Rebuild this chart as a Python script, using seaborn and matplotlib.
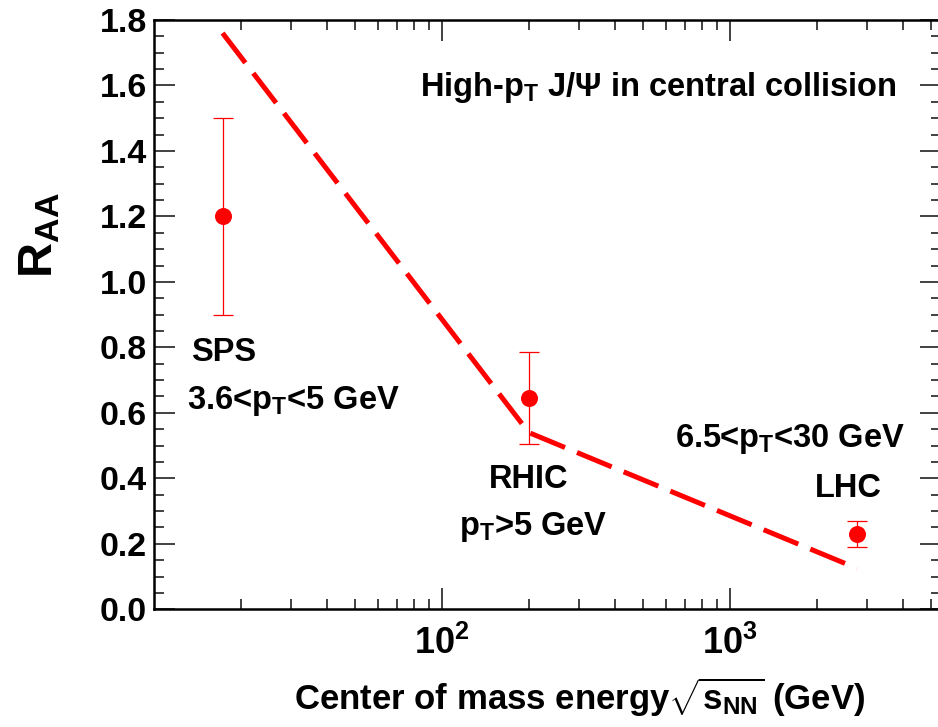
import matplotlib
matplotlib.use("Agg")
import matplotlib.pyplot as plt
import seaborn as sns
import numpy as np
import pandas as pd
from matplotlib.ticker import FixedLocator, NullFormatter

# ---- data ----
experiments = ["SPS", "RHIC", "LHC"]
energy = [17.3, 200.0, 2760.0]
raa = [1.20, 0.645, 0.23]
raa_err = [0.30, 0.14, 0.04]

model_energy = [17.3, 200.0, 2760.0]
model_raa = [1.76, 0.54, 0.125]

x_ticks = [100, 1000]
x_tick_labels = [r"$\mathbf{10^{2}}$", r"$\mathbf{10^{3}}$"]
y_ticks = [0.0, 0.2, 0.4, 0.6, 0.8, 1.0, 1.2, 1.4, 1.6, 1.8]

sns.set_style("ticks")
plt.rcParams["font.family"] = ["Liberation Sans", "DejaVu Sans"]
plt.rcParams["font.weight"] = "bold"
plt.rcParams["text.color"] = "black"
plt.rcParams["axes.labelcolor"] = "black"
plt.rcParams["xtick.labelcolor"] = "black"
plt.rcParams["ytick.labelcolor"] = "black"
plt.rcParams["mathtext.fontset"] = "custom"
plt.rcParams["mathtext.rm"] = "Liberation Sans:bold"
plt.rcParams["mathtext.bf"] = "Liberation Sans:bold"
plt.rcParams["mathtext.it"] = "Liberation Sans:bold"
plt.rcParams["mathtext.sf"] = "Liberation Sans:bold"

fig = plt.figure(figsize=(9.38, 7.27), dpi=100)
ax = fig.add_axes([154 / 938, 1 - 609.3 / 727, (941 - 154) / 938, (609.3 - 20) / 727])

red = "#ff0000"
model_df = pd.DataFrame({"energy": model_energy, "raa": model_raa})
sns.lineplot(data=model_df, x="energy", y="raa", ax=ax, color=red, lw=3.6,
             dashes=False, sort=False)
ax.lines[-1].set_dashes((7.5, 2.6))

data_df = pd.DataFrame({"energy": energy, "raa": raa, "exp": experiments})
ax.errorbar(energy, raa, yerr=raa_err, fmt="none", ecolor=red, elinewidth=0.9,
            capsize=7, capthick=0.9, zorder=3)
sns.scatterplot(data=data_df, x="energy", y="raa", ax=ax, color=red, s=150,
                edgecolor=red, linewidth=0, zorder=4, legend=False)

ax.set_xscale("log")
ax.set_xlim(10, 5400)
ax.set_ylim(0, 1.8)

ax.xaxis.set_major_locator(FixedLocator(x_ticks))
ax.set_xticklabels(x_tick_labels)
minor_x = [m * 10 ** d for d in (1, 2, 3) for m in range(2, 10) if m * 10 ** d < 5400]
ax.xaxis.set_minor_locator(FixedLocator(minor_x))
ax.xaxis.set_minor_formatter(NullFormatter())

ax.set_yticks(y_ticks)
ax.set_yticklabels([f"{v:.1f}" for v in y_ticks])
ax.yaxis.set_minor_locator(FixedLocator(np.arange(0, 1.8001, 0.05)))

for s in ax.spines.values():
    s.set_linewidth(1.8)
    s.set_color("black")
    s.set_visible(True)

ax.tick_params(axis="both", which="both", direction="in", top=True, right=True,
               color="#333333", width=1.3)
ax.tick_params(axis="y", which="major", length=15, labelsize=24.5, pad=5)
ax.tick_params(axis="y", which="minor", length=7.5)
ax.tick_params(axis="x", which="major", length=15, labelsize=26, pad=12)
ax.tick_params(axis="x", which="minor", length=7.5)

ax.set_xlabel(r"Center of mass energy$\sqrt{\mathrm{s_{NN}}}$ (GeV)",
              fontsize=25, fontweight="bold", ha="right", va="center")
ax.xaxis.set_label_coords((865 - 154) / 787, -0.149)
ax.set_ylabel(r"$\mathrm{R_{AA}}$", fontsize=35, fontweight="bold")
ax.yaxis.set_label_coords(-0.117, 0.635)

tk = dict(fontsize=23.5, fontweight="bold", color="black")
ax.text((897 - 154) / 787, 0.886, r"High-$\mathrm{p_T}$ J/Ψ in central collision",
        transform=ax.transAxes, ha="right", va="center", **tk)
ax.text(17.5, 0.785, "SPS", ha="center", va="center", **tk)
ax.text(13.0, 0.635, r"3.6<$\mathrm{p_T}$<5 GeV", ha="left", va="center", **tk)
ax.text(200, 0.395, "RHIC", ha="center", va="center", **tk)
ax.text(208, 0.25, r"$\mathrm{p_T}$>5 GeV", ha="center", va="center", **tk)
ax.text(4050, 0.52, r"6.5<$\mathrm{p_T}$<30 GeV", ha="right", va="center", **tk)
ax.text(2580, 0.37, "LHC", ha="center", va="center", **tk)

fig.savefig("out.png", dpi=100)
